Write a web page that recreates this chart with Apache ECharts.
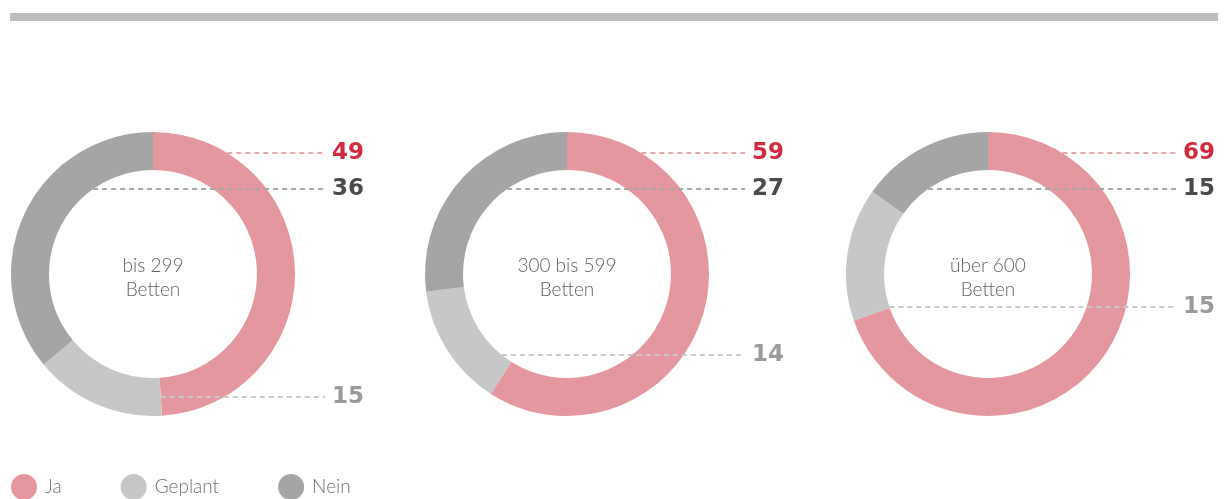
<!DOCTYPE html>
<html><head><meta charset="utf-8">
<script src="https://cdn.jsdelivr.net/npm/echarts@6/dist/echarts.min.js"></script>
<style>html,body{margin:0;padding:0;background:#fff}#c{width:1227px;height:499px}</style>
</head><body><div id="c"></div>
<script>
// ---- data ----
const categories = ['Ja', 'Geplant', 'Nein'];
const groupLabels = ['bis 299\nBetten', '300 bis 599\nBetten', 'über 600\nBetten'];
const ja = [49, 59, 69];
const geplant = [15, 14, 15];
const nein = [36, 27, 15];

// ---- styles / layout ----
const colors = { Ja: '#E4979F', Geplant: '#C6C7C8', Nein: '#A4A5A4' };
const labelColors = { Ja: '#D22B3F', Geplant: '#9A9A9A', Nein: '#4A4A4A' };
const lineColors = { Ja: '#E9A4AB', Geplant: '#C8C8C8', Nein: '#A8A8A8' };
const centers = [[153, 274], [567, 274], [988, 274]];
const R = 142, r = 104;
const labelX = [332, 752, 1183];
const labelY = { Ja: [153, 153, 153], Nein: [189, 189, 189], Geplant: [397, 355, 307] };

const seriesValues = { Ja: ja, Geplant: geplant, Nein: nein };

function startX(cat, s, y) {
  const cx = centers[s][0], cy = centers[s][1];
  const dy = y - cy;
  if (cat === 'Ja') {
    return cx + Math.sqrt(Math.max(0, R * R - dy * dy));
  }
  if (Math.abs(dy) < r) {
    return cx - Math.sqrt(r * r - dy * dy);
  }
  // boundary between Ja and Geplant
  const total = ja[s] + geplant[s] + nein[s];
  const th = ja[s] / total * 2 * Math.PI;
  const rho = -dy / Math.cos(th);
  return cx + rho * Math.sin(th);
}

const lineStyleBase = { width: 2.2, type: [5, 4] };

// ring series (drawn below)
const ringSeries = groupLabels.map((g, s) => ({
  type: 'pie',
  z: 1,
  center: centers[s],
  radius: [r, R],
  startAngle: 90,
  clockwise: true,
  animation: false,
  silent: true,
  emphasis: { disabled: true },
  label: { show: false },
  labelLine: { show: false },
  data: categories.map(c => ({
    name: c,
    value: seriesValues[c][s],
    itemStyle: { color: colors[c] }
  }))
}));

// overlay series carrying the value labels and leader lines (drawn above)
const labelSeries = groupLabels.map((g, s) => ({
  type: 'pie',
  z: 5,
  center: centers[s],
  radius: [r, R],
  startAngle: 90,
  clockwise: true,
  avoidLabelOverlap: false,
  animation: false,
  silent: true,
  legendHoverLink: false,
  emphasis: { disabled: true },
  label: {
    show: true,
    position: 'outside',
    formatter: '{c}',
    fontFamily: 'DejaVu Sans',
    fontWeight: 'bold',
    fontSize: 23
  },
  labelLine: {
    show: true,
    length: 5,
    length2: 5,
    smooth: false,
    lineStyle: lineStyleBase
  },
  labelLayout: function (p) {
    const cat = categories[p.dataIndex];
    const y = labelY[cat][s];
    const x0 = startX(cat, s, y);
    const x1 = labelX[s] - 7;
    return {
      x: labelX[s],
      y: y,
      align: 'left',
      verticalAlign: 'middle',
      labelLinePoints: [[x0, y], [(x0 + x1) / 2, y], [x1, y]]
    };
  },
  data: categories.map(c => ({
    name: c,
    value: seriesValues[c][s],
    itemStyle: { color: 'rgba(0,0,0,0)', borderWidth: 0 },
    label: { color: labelColors[c] },
    labelLine: { lineStyle: Object.assign({}, lineStyleBase, { color: lineColors[c] }) }
  }))
}));

const graphics = [
  { type: 'rect', shape: { x: 10, y: 13, width: 1208, height: 8 }, style: { fill: '#BDBDBD' }, silent: true }
];
groupLabels.forEach((g, s) => {
  graphics.push({
    type: 'text',
    x: centers[s][0],
    y: centers[s][1] + 4,
    style: {
      text: g,
      textAlign: 'center',
      textVerticalAlign: 'middle',
      fontFamily: 'Lato',
      fontWeight: 300,
      fontSize: 19,
      lineHeight: 24,
      fill: '#626262'
    },
    silent: true
  });
});

const chart = echarts.init(document.getElementById('c'), null, { renderer: 'canvas' });
chart.setOption({
  backgroundColor: '#ffffff',
  animation: false,
  legend: {
    data: categories.map(c => ({ name: c, itemStyle: { color: colors[c] } })),
    left: 11,
    top: 474,
    padding: 0,
    icon: 'circle',
    itemWidth: 26,
    itemHeight: 26,
    itemGap: 59,
    selectedMode: false,
    textStyle: { fontFamily: 'Lato', fontWeight: 300, fontSize: 19, color: '#707070', padding: [0, 0, 0, 3] }
  },
  graphic: graphics,
  series: ringSeries.concat(labelSeries)
});
</script>
</body></html>
